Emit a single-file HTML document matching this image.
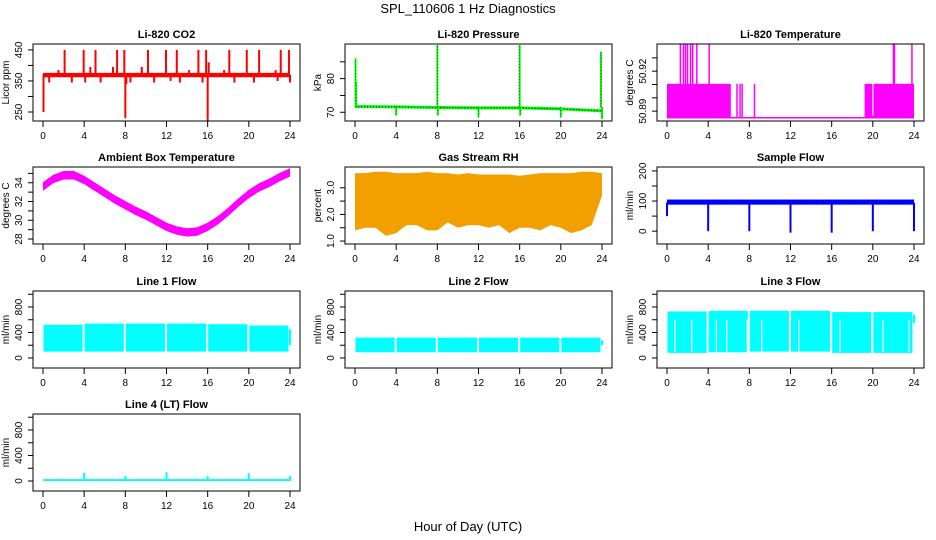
<!DOCTYPE html>
<html><head><meta charset="utf-8"><style>
html,body{margin:0;padding:0;background:#fff;overflow:hidden;width:936px;height:540px}
svg{display:block;font-family:"Liberation Sans",sans-serif}
</style></head><body>
<svg id="chart" width="936" height="540" viewBox="0 0 936 540" xmlns="http://www.w3.org/2000/svg">
<text x="468" y="13" text-anchor="middle" font-size="13">SPL_110606  1 Hz Diagnostics</text>
<text x="468" y="531" text-anchor="middle" font-size="13">Hour of Day (UTC)</text>
</svg>
<script>
// ---- data ----
const hourTicks = [0,4,8,12,16,20,24];
const co2BaseLow = 362, co2BaseHigh = 376;
const co2SpikeHours = [0.05,0.6,1.5,2.1,2.8,3.95,4.1,4.6,5.1,5.6,6.8,7.2,7.9,8.0,8.1,8.5,9.6,10.2,10.8,11.95,12.4,13.0,13.3,14.2,15.1,15.5,15.85,16.0,16.1,17.6,18.1,18.6,19.8,20.5,21.0,22.6,22.8,23.1,23.9,24.0];
const co2SpikeValues = [250,345,385,450,345,450,345,395,450,345,395,450,450,230,340,345,395,450,345,450,350,450,345,385,450,345,450,220,410,385,450,345,450,345,450,385,350,450,450,345];
const presHours = [0,4,8,12,16,20,24];
const presBase = [71.7,71.6,71.4,71.3,71.3,71.0,70.4];
const presSpikeHours = [0.05,0.1,4,8,8.05,12,16,16.05,20,23.9,24];
const presSpikeValues = [86,79,69,90,69,68.5,90,69,68.5,88,68];
const liTempBase = 50.885, liTempBlockTop = 50.9105, liTempSpikeTop = 50.94;
const liTempBlocks = [[0,6.2],[19.2,24]];
const liTempSpikeHours = [1.3,1.6,1.8,2.0,2.3,2.5,2.9,4.1,22.0,22.1,23.8];
const liTempLoneHours = [6.8,7.1,7.3,8.5];
const ambHours = [0,1,2,3,4,5,6,7,8,9,10,11,12,13,14,15,16,17,18,19,20,21,22,23,24];
const ambTemp = [33.6,34.4,34.8,34.8,34.3,33.6,32.9,32.2,31.6,31.0,30.5,29.9,29.3,28.9,28.7,28.8,29.3,30.0,30.9,31.9,32.8,33.5,34.0,34.6,35.1];
const rhHours = [0,1,2,3,4,5,6,7,8,9,10,11,12,13,14,15,16,17,18,19,20,21,22,23,24];
const rhTop = [3.55,3.55,3.6,3.6,3.55,3.55,3.55,3.6,3.55,3.55,3.5,3.55,3.5,3.5,3.5,3.5,3.45,3.5,3.55,3.55,3.55,3.55,3.6,3.6,3.55];
const rhLow = [1.4,1.5,1.5,1.2,1.3,1.6,1.6,1.4,1.4,1.7,1.5,1.6,1.6,1.5,1.6,1.3,1.5,1.5,1.4,1.6,1.5,1.3,1.4,1.6,2.7];
const sfLow = 88, sfHigh = 105;
const sfDipHours = [0,4,8,12,16,20,24];
const sfDipValues = [50,0,0,-5,-5,0,0];
const flowSegStart = [0,4,8,12,16,20];
const flowSegEnd = [3.85,7.85,11.85,15.85,19.85,23.85];
const line1Top = [520,540,540,540,530,510];
const line1Low = [100,100,100,100,100,100];
const line2Top = [320,320,320,320,320,320];
const line2Low = [90,90,90,90,90,90];
const line3Top = [730,740,740,740,720,720];
const line3Low = [80,90,100,100,80,80];
const line3GapHours = [0.8,2.4,4.8,5.8,7.8,9.2,11.9,12.8,15.9,16.8,19.9,21.0,23.5];
const line4Base = 15;
const line4SpikeHours = [4,8,12,16,20,24];
const line4SpikeValues = [130,80,140,80,120,80];

// ---- layout ----
const svg = document.getElementById('chart');
const NS = 'http://www.w3.org/2000/svg';
const colX = [33,345,657], rowY = [44,167,291,414], BW = 267, BH = 77;
function mk(tag, attrs, parent){ const e=document.createElementNS(NS,tag); for(const k in attrs) e.setAttribute(k,attrs[k]); (parent||svg).appendChild(e); return e; }

function panel(col,row,title,ylab,lo,hi,ticks,labels,name){
  const p={x0:colX[col],y0:rowY[row],w:BW,h:BH,lo:lo,hi:hi};
  p.sx=h=>p.x0+10+h*(p.w-20)/24;
  p.sy=v=>p.y0+p.h-(v-lo)/(hi-lo)*p.h;
  const g=mk('g',{});
  
  
  p.g=g;
  const t=mk('text',{x:p.x0+p.w/2,y:p.y0-6,'text-anchor':'middle','font-size':11,'font-weight':'bold'},g);
  t.textContent=title;
  
  
  const xa=mk('g',{stroke:'#000','stroke-width':1},g);
  
  
  mk('line',{x1:p.sx(0),x2:p.sx(24),y1:p.y0+p.h,y2:p.y0+p.h},xa);
  hourTicks.forEach(h=>{
    mk('line',{x1:p.sx(h),x2:p.sx(h),y1:p.y0+p.h,y2:p.y0+p.h+6},xa);
    const tl=mk('text',{x:p.sx(h),y:p.y0+p.h+18,'text-anchor':'middle','font-size':10,stroke:'none'},xa);
    tl.textContent=h;
    
    
  });
  const ya=mk('g',{stroke:'#000'},g);
  
  
  mk('line',{x1:p.x0,x2:p.x0,y1:p.sy(ticks[0]),y2:p.sy(ticks[ticks.length-1])},ya);
  ticks.forEach((v,i)=>{
    mk('line',{x1:p.x0-5,x2:p.x0,y1:p.sy(v),y2:p.sy(v)},ya);
    if(labels[i]!==''){
      const y=p.sy(v), x=p.x0-11;
      const tl=mk('text',{x:x,y:y,'text-anchor':'middle','font-size':10,stroke:'none',transform:`rotate(-90 ${x} ${y})`},ya);
      tl.textContent=labels[i];
      
      
    }
  });
  const yx=p.x0-24, yy=p.y0+p.h/2;
  const yl=mk('text',{x:yx,y:yy,'text-anchor':'middle','font-size':10,transform:`rotate(-90 ${yx} ${yy})`},g);
  yl.textContent=ylab;
  
  
  p.marks=mk('g',{},g);
  
  
  return p;
}
function box(p){ const b=mk('rect',{x:p.x0,y:p.y0,width:p.w,height:p.h,fill:'none',stroke:'#000'},p.g);
    }
function vline(p,h,a,b,color,w){ return mk('line',{x1:p.sx(h),x2:p.sx(h),y1:p.sy(a),y2:p.sy(b),stroke:color,'stroke-width':w||1.5},p.marks); }
function band(p,h0,h1,a,b,fill){ return mk('rect',{x:p.sx(h0),y:p.sy(b),width:p.sx(h1)-p.sx(h0),height:p.sy(a)-p.sy(b),fill:fill},p.marks); }

// CO2
let p=panel(0,0,'Li-820 CO2','Licor ppm',221,469,[250,300,350,400,450],['250','','350','','450'],'co2');
band(p,0,24,co2BaseLow,co2BaseHigh,'#ff0000');
co2SpikeHours.forEach((h,i)=>{ const l=vline(p,h,370,co2SpikeValues[i],'#ff0000',2);  });
box(p);
// Pressure
p=panel(1,0,'Li-820 Pressure','kPa',67.4,90.3,[70,75,80,85],['70','','80',''],'pressure');
const pp=presHours.map((h,i)=>p.sx(h)+','+p.sy(presBase[i])).join(' ');
let pl=mk('polyline',{points:pp,fill:'none',stroke:'#00ff00','stroke-width':3},p.marks);

presHours.forEach((h,i)=>{ if(i<presHours.length-1) mk('line',{x1:p.sx(h),x2:p.sx(presHours[i+1]),y1:p.sy(presBase[i]),y2:p.sy(presBase[i+1]),stroke:'#000','stroke-width':1,'stroke-dasharray':'1 2'},p.marks); });
presSpikeHours.forEach((h,i)=>{ const l=vline(p,h,71.5,presSpikeValues[i],'#00ff00',2);  mk('line',{x1:p.sx(h),x2:p.sx(h),y1:p.sy(71.5),y2:p.sy(presSpikeValues[i]),stroke:'#000','stroke-width':0.6,'stroke-dasharray':'1 2'},p.marks); });
box(p);
// Li temp
p=panel(2,0,'Li-820 Temperature','degrees C',50.8826,50.9404,[50.89,50.9,50.91,50.92,50.93],['50.89','','','50.92',''],'li-temp');
mk('line',{x1:p.sx(0),x2:p.sx(24),y1:p.sy(liTempBase),y2:p.sy(liTempBase),stroke:'#ff00ff','stroke-width':1.5},p.marks);
liTempBlocks.forEach(b=>{ const r=band(p,b[0],b[1],liTempBase,liTempBlockTop,'#ff00ff');  });
liTempSpikeHours.forEach(h=>{ const l=vline(p,h,liTempBase,liTempSpikeTop,'#ff00ff',1.5);  });
liTempLoneHours.forEach(h=>{ const l=vline(p,h,liTempBase,liTempBlockTop,'#ff00ff',1.5);  });
mk('line',{x1:p.sx(20),x2:p.sx(20),y1:p.sy(liTempBase)-2,y2:p.sy(liTempBlockTop),stroke:'#fff','stroke-width':1.2},p.marks);
box(p);
// Ambient
p=panel(0,1,'Ambient Box Temperature','degrees C',27.47,35.68,[28,29,30,31,32,33,34,35],['28','','30','','32','','34',''],'ambient');
let up=ambHours.map((h,i)=>p.sx(h)+','+p.sy(ambTemp[i]+0.45));
let dn=ambHours.map((h,i)=>p.sx(h)+','+p.sy(ambTemp[i]-0.45)).reverse();
let ag=mk('polygon',{points:up.concat(dn).join(' '),fill:'#ff00ff'},p.marks);

box(p);
// RH
p=panel(1,1,'Gas Stream RH','percent',0.89,3.78,[1.0,1.5,2.0,2.5,3.0],['1.0','','2.0','','3.0'],'rh');
up=rhHours.map((h,i)=>p.sx(h)+','+p.sy(rhTop[i]));
dn=rhHours.map((h,i)=>p.sx(h)+','+p.sy(rhLow[i])).reverse();
let rg=mk('polygon',{points:up.concat(dn).join(' '),fill:'#f2a000'},p.marks);

box(p);
// Sample flow
p=panel(2,1,'Sample Flow','ml/min',-42.6,213,[0,50,100,150,200],['0','','100','','200'],'sample-flow');
band(p,0,24,sfLow,sfHigh,'#0000ff');
sfDipHours.forEach((h,i)=>{ const l=vline(p,h,95,sfDipValues[i],'#0000ff',2);  });
box(p);
// Flow panels
const flowTicks=[0,200,400,600,800,1000], flowLabels=['0','','400','','800',''];
function flowPanel(col,row,title,name,tops,lows){
  const q=panel(col,row,title,'ml/min',-157,1051,flowTicks,flowLabels,name);
  flowSegStart.forEach((s,i)=>{ const r=band(q,s+0.05,flowSegEnd[i],lows[i],tops[i],'#00ffff');  });
  return q;
}
p=flowPanel(0,2,'Line 1 Flow','line1-flow',line1Top,line1Low);
vline(p,24,200,450,'#00ffff',2);
box(p);
p=flowPanel(1,2,'Line 2 Flow','line2-flow',line2Top,line2Low);
vline(p,24,200,280,'#00ffff',2);
box(p);
p=flowPanel(2,2,'Line 3 Flow','line3-flow',line3Top,line3Low);
line3GapHours.forEach(h=>{ const l=vline(p,h,line3Low[0]+20,600,'#fff',1.2);  });
vline(p,24,550,680,'#00ffff',2);
box(p);
// Line 4
p=panel(0,3,'Line 4 (LT) Flow','ml/min',-157,1051,flowTicks,flowLabels,'line4-flow');
band(p,0,24,0,line4Base+15,'#00ffff');
line4SpikeHours.forEach((h,i)=>{ const l=vline(p,h,0,line4SpikeValues[i],'#00ffff',2);  });
box(p);
</script>
</body></html>
